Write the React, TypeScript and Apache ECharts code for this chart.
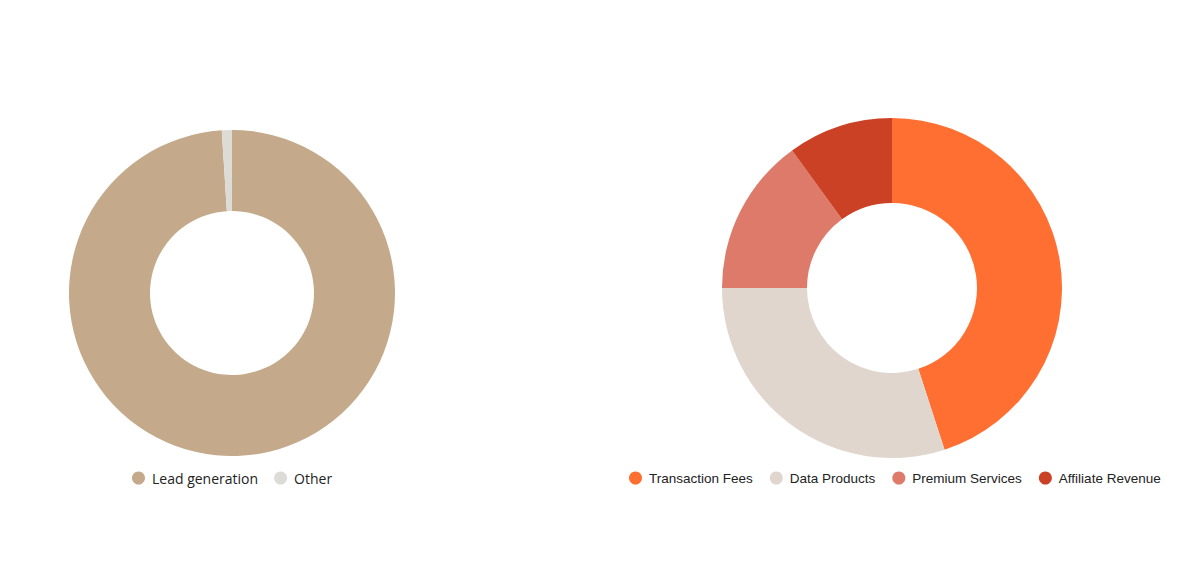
import React, { useEffect, useRef } from "react";
import * as echarts from "echarts";

const leftNames = ["Lead generation", "Other"];
const leftValues = [99, 1];
const leftColors = ["#C4A98A", "#DDDBD6"];

const rightNames = ["Transaction Fees", "Data Products", "Premium Services", "Affiliate Revenue"];
const rightValues = [45, 30, 15, 10];
const rightColors = ["#FF6F31", "#E0D6CE", "#DE7A6A", "#CB4125"];

export default function App() {
  const ref = useRef<HTMLDivElement>(null);
  useEffect(() => {
    if (!ref.current) return;
    const chart = echarts.init(ref.current, undefined, { renderer: "svg" });
    chart.setOption({
      animation: false,
      legend: [
        {
          data: leftNames,
          left: 127,
          top: 466,
          icon: "circle",
          itemWidth: 17,
          itemHeight: 13,
          itemGap: 16,
          textStyle: { fontFamily: "Open Sans", fontSize: 14, color: "#222" },
        },
        {
          data: rightNames,
          left: 624,
          top: 466,
          icon: "circle",
          itemWidth: 17,
          itemHeight: 13,
          itemGap: 17,
          textStyle: { fontFamily: "Liberation Sans", fontSize: 13.5, color: "#222" },
        },
      ],
      series: [
        {
          type: "pie",
          center: [232, 293],
          radius: [82, 163],
          startAngle: 90,
          label: { show: false },
          labelLine: { show: false },
          emphasis: { disabled: true },
          data: leftNames.map((n, i) => ({ name: n, value: leftValues[i], itemStyle: { color: leftColors[i] } })),
        },
        {
          type: "pie",
          center: [892, 288],
          radius: [85, 170],
          startAngle: 90,
          label: { show: false },
          labelLine: { show: false },
          emphasis: { disabled: true },
          data: rightNames.map((n, i) => ({ name: n, value: rightValues[i], itemStyle: { color: rightColors[i] } })),
        },
      ],
    });
    return () => chart.dispose();
  }, []);
  return <div ref={ref} style={{ position: "absolute", left: 0, top: 0, width: 1202, height: 564 }} />;
}
